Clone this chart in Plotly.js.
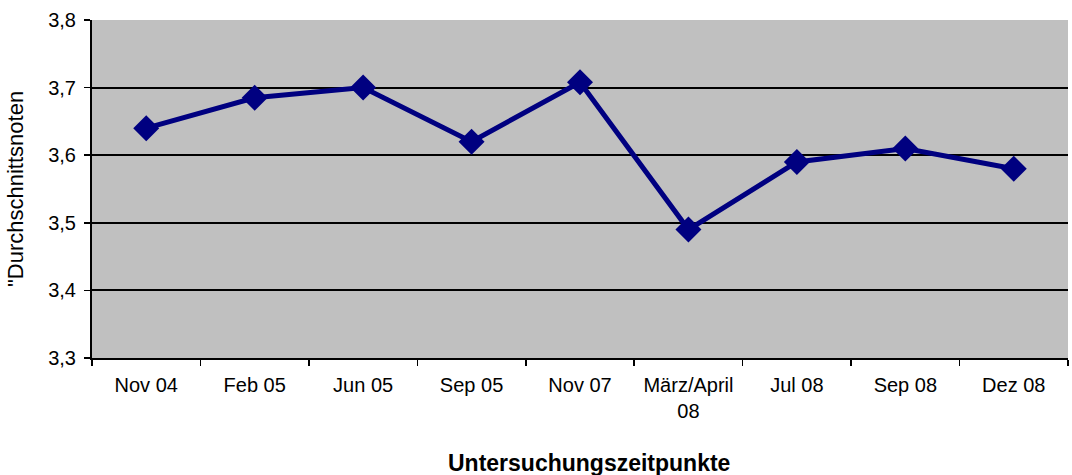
<!DOCTYPE html>
<html>
<head>
<meta charset="utf-8">
<script src="https://cdn.plot.ly/plotly-3.0.1.min.js"></script>
<style>html,body{margin:0;padding:0;background:#fff;}#chart{width:1072px;height:475px;}</style>
</head>
<body>
<div id="chart"></div>
<script>
const categories = ["Nov 04", "Feb 05", "Jun 05", "Sep 05", "Nov 07", "März/April<br>08", "Jul 08", "Sep 08", "Dez 08"];
const values = [3.64, 3.685, 3.70, 3.62, 3.708, 3.49, 3.59, 3.61, 3.58];
const yTickVals = [3.3, 3.4, 3.5, 3.6, 3.7, 3.8];
const yTickText = ["3,3", "3,4", "3,5", "3,6", "3,7", "3,8"];
const yGridVals = [3.4, 3.5, 3.6, 3.7];
const xTitle = "Untersuchungszeitpunkte";
const yTitle = "\"Durchschnittsnoten";

const trace = {
  x: categories,
  y: values,
  type: "scatter",
  mode: "lines+markers",
  line: {color: "#000080", width: 5},
  marker: {symbol: "diamond", size: 20, color: "#000080"},
  hoverinfo: "skip"
};

const yRange = [3.3, 3.8];

const layout = {
  width: 1072,
  height: 475,
  margin: {l: 92, r: 4, t: 20, b: 117},
  paper_bgcolor: "#ffffff",
  plot_bgcolor: "#c0c0c0",
  showlegend: false,
  font: {family: "Liberation Sans, Arial, sans-serif", size: 20, color: "#000"},
  xaxis: {
    type: "category",
    range: [-0.5, categories.length - 0.5],
    tickson: "boundaries",
    ticks: "outside",
    ticklen: 6,
    tickwidth: 1.5,
    tickcolor: "#000",
    showline: true,
    linecolor: "#000",
    linewidth: 2,
    showgrid: false,
    zeroline: false,
    tickfont: {size: 20},
    ticklabelstandoff: 8
  },
  yaxis: {
    range: yRange,
    tickvals: yGridVals,
    showticklabels: false,
    ticks: "",
    showline: false,
    showgrid: true,
    gridcolor: "#000",
    gridwidth: 2,
    zeroline: false
  },
  yaxis2: {
    overlaying: "y",
    side: "left",
    range: yRange,
    tickvals: yTickVals,
    ticktext: yTickText,
    ticks: "outside",
    ticklen: 6,
    tickwidth: 1.5,
    tickcolor: "#000",
    showline: true,
    linecolor: "#000",
    linewidth: 2,
    showgrid: false,
    zeroline: false,
    tickfont: {size: 20},
    ticklabelstandoff: 4
  },
  annotations: [
    {text: "<b>" + xTitle + "</b>", xref: "paper", yref: "paper", x: 0.509, y: -0.311,
     xanchor: "center", yanchor: "middle", showarrow: false, font: {size: 23}},
    {text: yTitle, xref: "paper", yref: "paper", x: -0.0789, y: 0.5, textangle: -90,
     xanchor: "center", yanchor: "middle", showarrow: false, font: {size: 22}}
  ]
};

const gridHelper = {x: [categories[0]], y: [yRange[0]], yaxis: "y2", type: "scatter", mode: "markers",
  marker: {opacity: 0}, hoverinfo: "skip", showlegend: false};

Plotly.newPlot("chart", [trace, gridHelper], layout, {displayModeBar: false, staticPlot: true});
</script>
</body>
</html>
